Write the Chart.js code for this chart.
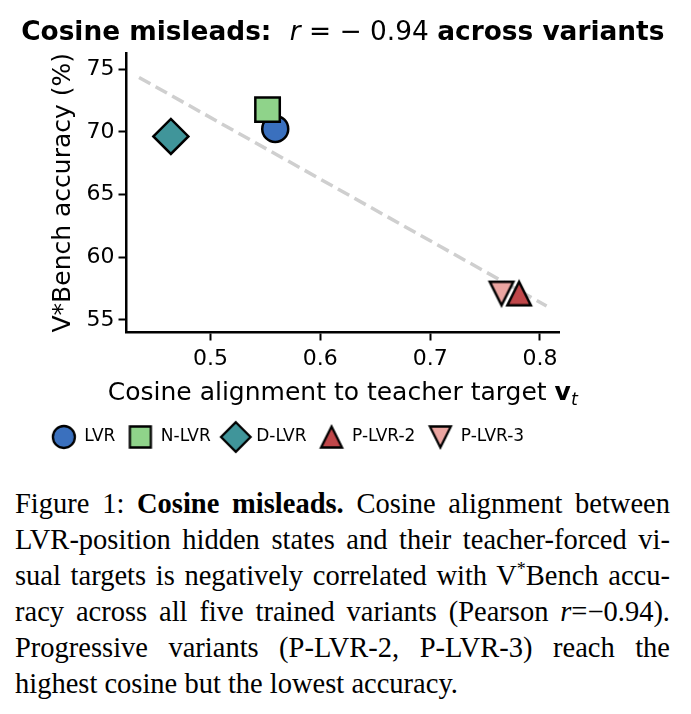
<!DOCTYPE html>
<html><head><meta charset="utf-8">
<script src="https://cdn.jsdelivr.net/npm/chart.js@4.4.0/dist/chart.umd.min.js"></script>
<style>
html,body{margin:0;padding:0;background:#fff;}
body{width:691px;height:714px;position:relative;overflow:hidden;}
#wrap{position:absolute;left:0;top:0;width:691px;height:470px;}
#cap{position:absolute;left:15px;top:486px;width:655px;font-family:"Liberation Serif","Times New Roman",serif;font-size:28.5px;line-height:36px;color:#000;}
#cap .ln{white-space:nowrap;display:block;}
</style></head><body>
<div id="wrap"><canvas id="c" width="691" height="470"></canvas></div>
<div id="cap">
<span class="ln j">Figure 1: <b>Cosine misleads.</b> Cosine alignment between</span>
<span class="ln j">LVR-position hidden states and their teacher-forced vi-</span>
<span class="ln j">sual targets is negatively correlated with V<sup style="font-size:18px;line-height:0;vertical-align:10px">*</sup>Bench accu-</span>
<span class="ln j">racy across all five trained variants (Pearson <i>r</i>=−0.94).</span>
<span class="ln j">Progressive variants (P-LVR-2, P-LVR-3) reach the</span>
<span class="ln">highest cosine but the lowest accuracy.</span>
</div>
<script>
// ---- data ----
const variants = ['LVR', 'N-LVR', 'D-LVR', 'P-LVR-2', 'P-LVR-3'];
const cosine   = [0.559, 0.552, 0.464, 0.781, 0.765];
const accuracy = [70.24, 71.78, 69.64, 57.1, 57.1];
const fitX = [0.435, 0.806];
const fitY = [74.35, 56.1];
const xTicks = [0.5, 0.6, 0.7, 0.8];
const yTicks = [55, 60, 65, 70, 75];

// ---- styles ----
const colors = ['#3a70be', '#8fd38a', '#40959a', '#c0474a', '#eba5a1'];
const shapes = ['circle', 'rect', 'diamond', 'triUp', 'triDown'];
const radii = [13, 17.3, 17.5, 0, 0];
const orders = [5, 4, 3, 2, 1];
const FONT = '"DejaVu Sans", sans-serif';

// marker glyphs with matplotlib geometry (centred bounding box)
function makeMarker(shape, size, fill, lw) {
  const pad = lw + 3;
  let S = Math.round(size + 2 * pad); if (S % 2) S += 1;
  const c = document.createElement('canvas');
  c.width = S; c.height = S;
  const g = c.getContext('2d');
  const h = size / 2, m = S / 2;
  g.beginPath();
  if (shape === 'circle') g.arc(m, m, h, 0, Math.PI * 2);
  else if (shape === 'rect') g.rect(m - h, m - h, size, size);
  else if (shape === 'diamond') { g.moveTo(m, m - h); g.lineTo(m + h, m); g.lineTo(m, m + h); g.lineTo(m - h, m); }
  else if (shape === 'triUp') { g.moveTo(m, m - h); g.lineTo(m + h, m + h); g.lineTo(m - h, m + h); }
  else { g.moveTo(m, m + h); g.lineTo(m + h, m - h); g.lineTo(m - h, m - h); }
  g.closePath();
  g.fillStyle = fill; g.fill();
  g.lineJoin = 'miter'; g.lineWidth = lw; g.strokeStyle = '#000'; g.stroke();
  return c;
}
const legendSizes = [22, 21, 29.5, 21, 21];
const legendMarkers = shapes.map((s, i) => makeMarker(s, legendSizes[i], colors[i], 2.3));
const plotTriangles = {triUp: 23.5, triDown: 23.5};

const datasets = variants.map((name, i) => {
  const isTri = shapes[i] === 'triUp' || shapes[i] === 'triDown';
  const builtin = {circle: 'circle', rect: 'rect', diamond: 'rectRot'}[shapes[i]];
  return {
    label: name,
    data: [{x: cosine[i], y: accuracy[i]}],
    backgroundColor: colors[i],
    borderColor: '#000',
    borderWidth: 2.5,
    pointStyle: isTri ? makeMarker(shapes[i], plotTriangles[shapes[i]], colors[i], 2.5) : builtin,
    pointRadius: isTri ? 14 : radii[i],
    pointHoverRadius: isTri ? 14 : radii[i],
    order: orders[i]
  };
});
datasets.push({
  label: 'fit',
  data: fitX.map((x, i) => ({x: x, y: fitY[i]})),
  showLine: true,
  borderColor: '#cfcfcf',
  borderWidth: 3.5,
  borderDash: [13, 6],
  pointRadius: 0,
  fill: false,
  order: 10
});

function drawRich(ctx, parts, cx, y) {
  let total = 0;
  parts.forEach(p => { ctx.font = p[0]; total += ctx.measureText(p[1]).width; });
  let x = cx - total / 2;
  parts.forEach(p => {
    ctx.font = p[0];
    ctx.fillText(p[1], x, y + (p[2] || 0));
    x += ctx.measureText(p[1]).width;
  });
}

const textPlugin = {
  id: 'texts',
  afterDraw(chart) {
    const ctx = chart.ctx, a = chart.chartArea;
    const cx = (a.left + a.right) / 2;
    ctx.save();
    ctx.fillStyle = '#000';
    ctx.textAlign = 'left';
    ctx.textBaseline = 'alphabetic';
    drawRich(ctx, [
      ['bold 26.4px ' + FONT, 'Cosine misleads:  '],
      ['oblique 26.4px ' + FONT, 'r'],
      ['26.4px ' + FONT, ' = \u2212 0.94 '],
      ['bold 26.4px ' + FONT, 'across variants']
    ], cx, 40);
    drawRich(ctx, [
      ['25px ' + FONT, 'Cosine alignment to teacher target '],
      ['bold 25px ' + FONT, 'v'],
      ['oblique 17.5px ' + FONT, 't', 5]
    ], cx, 400);
    ctx.restore();
  }
};

const tickFont = {family: FONT, size: 22};
new Chart(document.getElementById('c'), {
  type: 'scatter',
  data: {datasets: datasets},
  plugins: [textPlugin],
  options: {
    responsive: false,
    animation: false,
    devicePixelRatio: 1,
    layout: {padding: {top: 53, left: 17, right: 132, bottom: 14.5}},
    plugins: {
      tooltip: {enabled: false},
      title: {display: false},
      legend: {
        position: 'bottom',
        labels: {
          usePointStyle: true,
          pointStyleWidth: 24,
          boxHeight: 17,
          padding: 13,
          color: '#000',
          font: {family: FONT, size: 17},
          generateLabels: chart => Chart.defaults.plugins.legend.labels.generateLabels(chart)
            .filter(it => it.datasetIndex < variants.length)
            .sort((a, b) => a.datasetIndex - b.datasetIndex)
            .map(it => Object.assign({}, it, {pointStyle: legendMarkers[it.datasetIndex], rotation: 0}))
        }
      }
    },
    scales: {
      x: {
        type: 'linear',
        min: 0.4236, max: 0.8173,
        afterFit: s => { s.height = 83; },
        afterBuildTicks: s => { s.ticks = xTicks.map(v => ({value: v})); },
        ticks: {font: tickFont, color: '#000', padding: 6, maxRotation: 0, autoSkip: false,
                callback: v => Number(v).toFixed(1)},
        grid: {drawOnChartArea: false, drawTicks: true, tickLength: 8, tickWidth: 2, tickColor: '#000'},
        border: {display: true, color: '#000', width: 2.5}
      },
      y: {
        type: 'linear',
        min: 53.99, max: 76.3,
        afterFit: s => { s.width = 109.5; },
        afterBuildTicks: s => { s.ticks = yTicks.map(v => ({value: v})); },
        ticks: {font: tickFont, color: '#000', padding: 4, autoSkip: false,
                callback: v => String(v)},
        grid: {drawOnChartArea: false, drawTicks: true, tickLength: 8, tickWidth: 2, tickColor: '#000'},
        border: {display: true, color: '#000', width: 2.5},
        title: {display: true, text: 'V*Bench accuracy (%)', color: '#000',
                font: {family: FONT, size: 25}, padding: {top: 31, bottom: 0}}
      }
    }
  }
});

// justify caption lines to the full width
document.querySelectorAll('#cap .ln.j').forEach(el => {
  const target = 655;
  el.style.display = 'inline-block';
  const nat = el.getBoundingClientRect().width;
  const spaces = (el.textContent.trim().match(/ /g) || []).length;
  if (spaces > 0) el.style.wordSpacing = ((target - nat) / spaces) + 'px';
  el.style.display = 'block';
});
</script>
</body></html>
